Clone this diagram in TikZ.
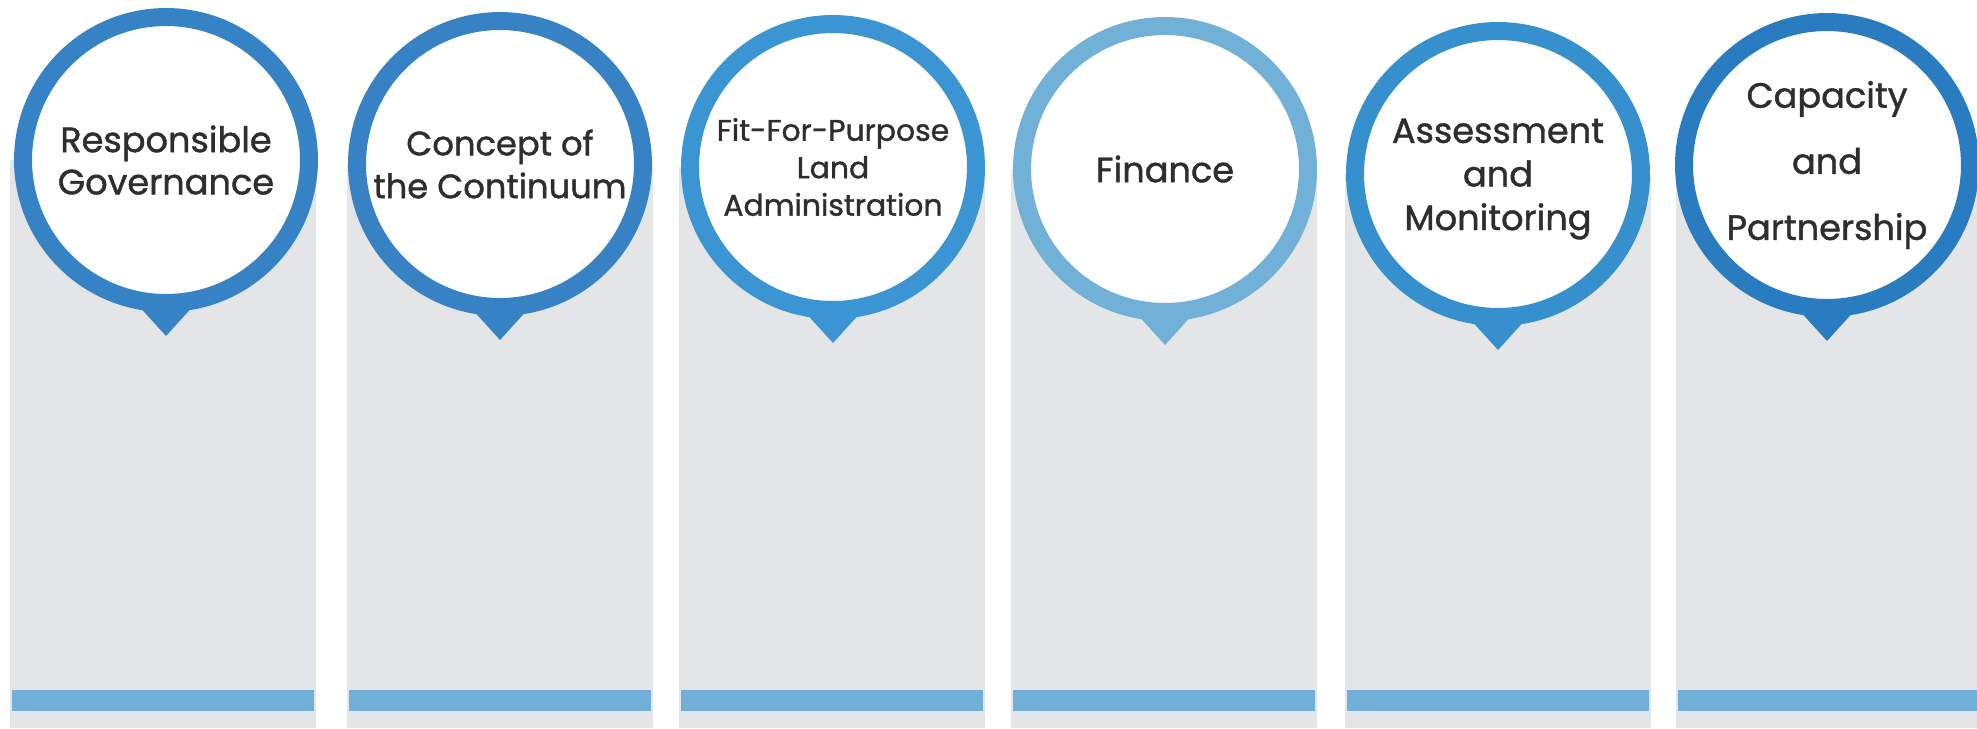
\documentclass[tikz,border=0pt]{standalone}
\usepackage{fontspec}
\setmainfont{Poppins}[FakeBold=1.2]
\usetikzlibrary{positioning}
\definecolor{panelgray}{HTML}{E4E5E7}
\definecolor{barblue}{HTML}{70B0D8}
\definecolor{textgray}{HTML}{2E2E2E}
\definecolor{ringgov}{HTML}{3583C4}
\definecolor{ringcont}{HTML}{3782C4}
\definecolor{ringfit}{HTML}{3A95D2}
\definecolor{ringfin}{HTML}{71B1D8}
\definecolor{ringmon}{HTML}{3590CD}
\definecolor{ringcap}{HTML}{2A7CC0}
\tikzset{
    %Define style for the grey panels
    panel/.style={
             fill=panelgray},
    bottombar/.style={
             fill=barblue},
    %Define style for bubbles
    bubble/.style={
             circle,
             draw=#1, fill=white,
             line width=0.36cm,
             minimum size=5.72cm,
             inner sep=0pt, outer sep=0pt},
    % Define style for the texts in the bubbles
    bubbletext/.style={
             text=textgray, align=center,
             font=\fontsize{20}{24}\selectfont},
    % Define pointer style
    pointer/.style={
             fill=#1}
}

\begin{document}
\begin{tikzpicture}[x=0.02cm, y=-0.02cm]
 \useasboundingbox (0,0) rectangle (1977,728);
 % panels and bars
 \foreach \px/\py in {10/160, 347/164, 679/167, 1011/169, 1345/174, 1676/165}{
   \fill[panel] (\px,\py) rectangle (\px+306,728);
   \fill[bottombar] (\px+2,690) rectangle (\px+304,711);
 }
 % bubbles
 \node[bubble=ringgov] (gov) at (166,160) {};
 \node[bubble=ringcont] (cont) at (500,164) {};
 \node[bubble=ringfit] (fit) at (833,167) {};
 \node[bubble=ringfin] (fin) at (1165,169) {};
 \node[bubble=ringmon] (mon) at (1498,174) {};
 \node[bubble=ringcap] (cap) at (1827,165) {};
 % pointers
 \foreach \b/\c in {gov/ringgov, cont/ringcont, fit/ringfit, fin/ringfin, mon/ringmon, cap/ringcap}{
   \fill[pointer=\c] ([xshift=-0.6cm]\b.south) -- ([xshift=0.6cm]\b.south)
        -- ([yshift=-0.66cm]\b.south) -- cycle;
 }
 % texts
 \node[bubbletext] (govtext) at (gov.center) {Responsible\\Governance};
 \node[bubbletext, font=\fontsize{19.2}{24.4}\selectfont] (conttext) at (cont.center)
      {Concept of\\the Continuum};
 \node[bubbletext, font=\fontsize{17}{21.3}\selectfont] (fittext) at (fit.center)
      {Fit-For-Purpose\\Land\\Administration};
 \node[bubbletext] (fintext) at (fin.center) {Finance};
 \node[bubbletext, font=\fontsize{20}{24.8}\selectfont, yshift=-0.1cm] (montext) at (mon.center)
      {Assessment\\and\\Monitoring};
 \node[bubbletext, font=\fontsize{20}{37.6}\selectfont] (captext) at (cap.center)
      {Capacity\\and\\Partnership};
\end{tikzpicture}
\end{document}
